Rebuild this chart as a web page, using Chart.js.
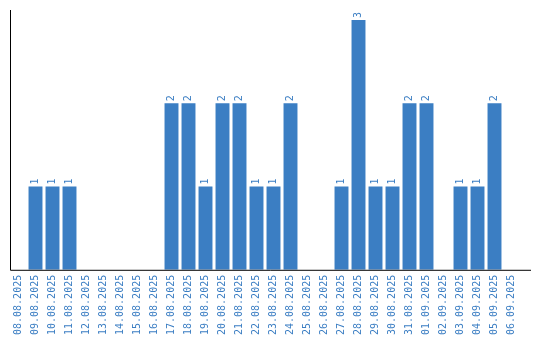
<!DOCTYPE html>
<html>
<head>
<meta charset="utf-8"/>
<title>Daily counts</title>
<script src="https://cdn.jsdelivr.net/npm/chart.js"></script>
<style>
    body { margin: 0; background: #ffffff; }
    .wrap { width: 540px; height: 340px; position: relative; }
</style>
</head>
<body>
<div class="wrap"><canvas id="chart"></canvas></div>
<script>
    const dates = ['08.08.2025', '09.08.2025', '10.08.2025', '11.08.2025', '12.08.2025', '13.08.2025',
        '14.08.2025', '15.08.2025', '16.08.2025', '17.08.2025', '18.08.2025', '19.08.2025',
        '20.08.2025', '21.08.2025', '22.08.2025', '23.08.2025', '24.08.2025', '25.08.2025',
        '26.08.2025', '27.08.2025', '28.08.2025', '29.08.2025', '30.08.2025', '31.08.2025',
        '01.09.2025', '02.09.2025', '03.09.2025', '04.09.2025', '05.09.2025', '06.09.2025'];
    const counts = [0, 1, 1, 1, 0, 0, 0, 0, 0, 2, 2, 1, 2, 2, 1, 1, 2, 0, 0, 1, 3, 1, 1, 2, 2, 0, 1, 1, 2, 0];

    const blue = '#3b7ec3';
    const mono = '"DejaVu Sans Mono", monospace';

    // value above each bar, rotated like the axis labels; also the axis line,
    // which runs a little past the last category
    const extras = {
        id: 'extras',
        afterDatasetsDraw(chart) {
            const ctx = chart.ctx;
            const area = chart.chartArea;
            const meta = chart.getDatasetMeta(0);
            ctx.save();
            ctx.strokeStyle = '#000000';
            ctx.lineWidth = 1;
            ctx.beginPath();
            ctx.moveTo(area.left + 0.5, area.top);
            ctx.lineTo(area.left + 0.5, area.bottom + 0.5);
            ctx.lineTo(area.right + 11, area.bottom + 0.5);
            ctx.stroke();

            ctx.fillStyle = blue;
            ctx.font = '10px ' + mono;
            ctx.textAlign = 'left';
            ctx.textBaseline = 'middle';
            meta.data.forEach((bar, i) => {
                if (!counts[i]) return;
                ctx.save();
                ctx.translate(bar.x, bar.y - 2);
                ctx.rotate(-Math.PI / 2);
                ctx.fillText(String(counts[i]), 0, 0);
                ctx.restore();
            });
            ctx.restore();
        }
    };

    new Chart(document.getElementById('chart'), {
        type: 'bar',
        data: {
            labels: dates,
            datasets: [{
                data: counts,
                backgroundColor: blue,
                borderWidth: 0,
                barPercentage: 0.82,
                categoryPercentage: 1
            }]
        },
        options: {
            responsive: true,
            maintainAspectRatio: false,
            animation: false,
            layout: { padding: { left: 10, top: 10, right: 20, bottom: 0 } },
            scales: {
                x: {
                    grid: { display: false, drawTicks: false },
                    border: { display: false },
                    ticks: {
                        color: blue,
                        font: { family: mono, size: 10 },
                        minRotation: 90,
                        maxRotation: 90,
                        autoSkip: false,
                        padding: 5
                    }
                },
                y: {
                    min: 0,
                    max: 3.12,
                    grid: { display: false, drawTicks: false },
                    border: { display: false },
                    ticks: { display: false, padding: 0 }
                }
            },
            plugins: {
                legend: { display: false },
                tooltip: { enabled: false }
            }
        },
        plugins: [extras]
    });
</script>
</body>
</html>
